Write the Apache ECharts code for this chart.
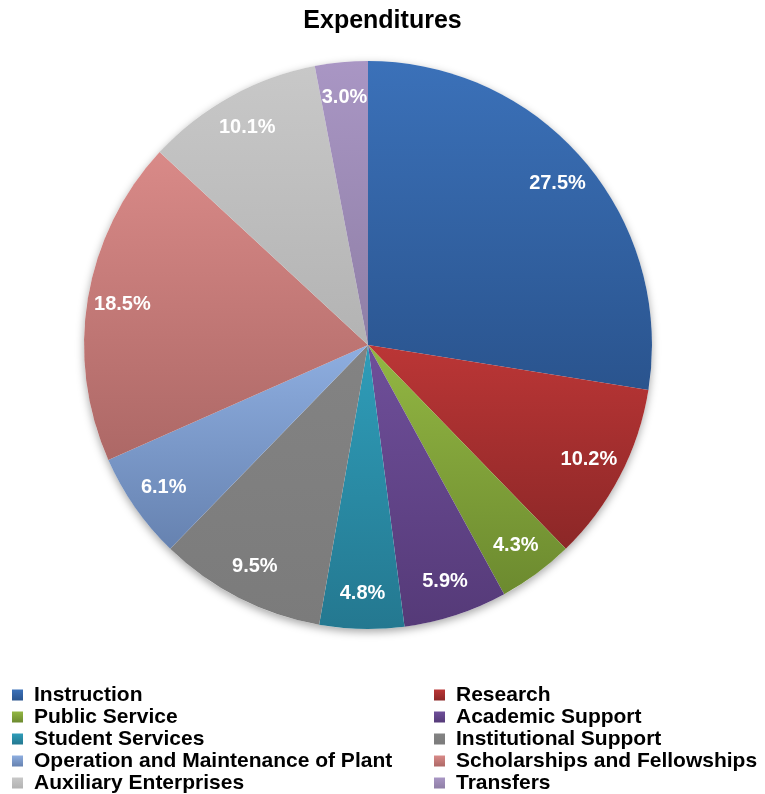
<!DOCTYPE html>
<html>
<head>
<meta charset="utf-8">
<title>Expenditures</title>
<script src="https://cdn.jsdelivr.net/npm/echarts@6/dist/echarts.min.js"></script>
<style>
  html, body { margin: 0; padding: 0; background: #ffffff; }
  #chart { width: 765px; height: 794px; }
</style>
</head>
<body>
<div id="chart"></div>
<script>
// Expenditure categories and their share of the total (%)
const categories = [
  'Instruction', 'Research', 'Public Service', 'Academic Support',
  'Student Services', 'Institutional Support',
  'Operation and Maintenance of Plant', 'Scholarships and Fellowships',
  'Auxiliary Enterprises', 'Transfers'
];
const shares = [27.5, 10.2, 4.3, 5.9, 4.8, 9.5, 6.1, 18.5, 10.1, 3.0];

// Slice colours, light at the top of each wedge, darker at the bottom
const topColors = ['#3b71b9', '#bb3636', '#93b743', '#6f4f9a', '#2f9db9',
                   '#838383', '#8eaee0', '#d98a88', '#c8c8c8', '#a996c4'];
const bottomColors = ['#2a548e', '#8c2727', '#6c8a2f', '#553a78', '#247890',
                      '#7b7b7b', '#6682b0', '#ad6866', '#b3b3b3', '#8f7fa6'];

// Legend columns
const leftColumn = [categories[0], categories[2], categories[4], categories[6], categories[8]];
const rightColumn = [categories[1], categories[3], categories[5], categories[7], categories[9]];

const grad = (i) => new echarts.graphic.LinearGradient(0, 0, 0, 1, [
  { offset: 0, color: topColors[i] },
  { offset: 1, color: bottomColors[i] }
]);

const center = [368, 345];
const outerRadius = 284;

const sliceData = categories.map((name, i) => ({
  name, value: shares[i], itemStyle: { color: grad(i) }
}));
const labelData = categories.map((name, i) => ({ name, value: shares[i] }));

const legendItems = (names) => names.map(name => {
  const i = categories.indexOf(name);
  return { name, itemStyle: { color: grad(i) } };
});

const legendCommon = {
  orient: 'vertical',
  top: 679,
  height: 130,
  icon: 'rect',
  itemWidth: 11,
  itemHeight: 11,
  itemGap: 0,
  selectedMode: false,
  textStyle: {
    fontFamily: 'Liberation Sans, Arial, sans-serif',
    fontWeight: 'bold',
    fontSize: 21,
    lineHeight: 22,
    color: '#000000',
    padding: [0, 0, 0, 6]
  }
};

const chart = echarts.init(document.getElementById('chart'), null, { renderer: 'canvas' });
chart.setOption({
  animation: false,
  title: {
    text: 'Expenditures',
    left: 'center',
    top: 4,
    textStyle: {
      fontFamily: 'Liberation Sans, Arial, sans-serif',
      fontWeight: 'bold',
      fontSize: 25,
      color: '#000000'
    }
  },
  legend: [
    Object.assign({ left: 7, data: legendItems(leftColumn) }, legendCommon),
    Object.assign({ left: 429, data: legendItems(rightColumn) }, legendCommon)
  ],
  series: [
    {
      // soft drop shadow beneath the whole pie
      type: 'pie',
      center, radius: [0, outerRadius],
      silent: true,
      label: { show: false },
      labelLine: { show: false },
      data: [{ value: 1, itemStyle: { color: '#ffffff', shadowBlur: 8, shadowOffsetY: 3, shadowColor: 'rgba(0,0,0,0.35)' } }],
      z: 1
    },
    {
      type: 'pie',
      center, radius: [0, outerRadius],
      startAngle: 90,
      clockwise: true,
      silent: true,
      label: { show: false },
      labelLine: { show: false },
      itemStyle: { borderWidth: 0 },
      data: sliceData,
      z: 2
    },
    {
      // transparent ring that carries the percentage labels
      type: 'pie',
      center, radius: [208, outerRadius],
      startAngle: 90,
      clockwise: true,
      silent: true,
      itemStyle: { color: 'rgba(0,0,0,0)', borderWidth: 0 },
      label: {
        show: true,
        position: 'inside',
        formatter: (p) => p.value.toFixed(1) + '%',
        fontFamily: 'Liberation Sans, Arial, sans-serif',
        fontWeight: 'bold',
        fontSize: 20,
        color: '#ffffff'
      },
      labelLine: { show: false },
      data: labelData,
      z: 3
    }
  ]
});
</script>
</body>
</html>
